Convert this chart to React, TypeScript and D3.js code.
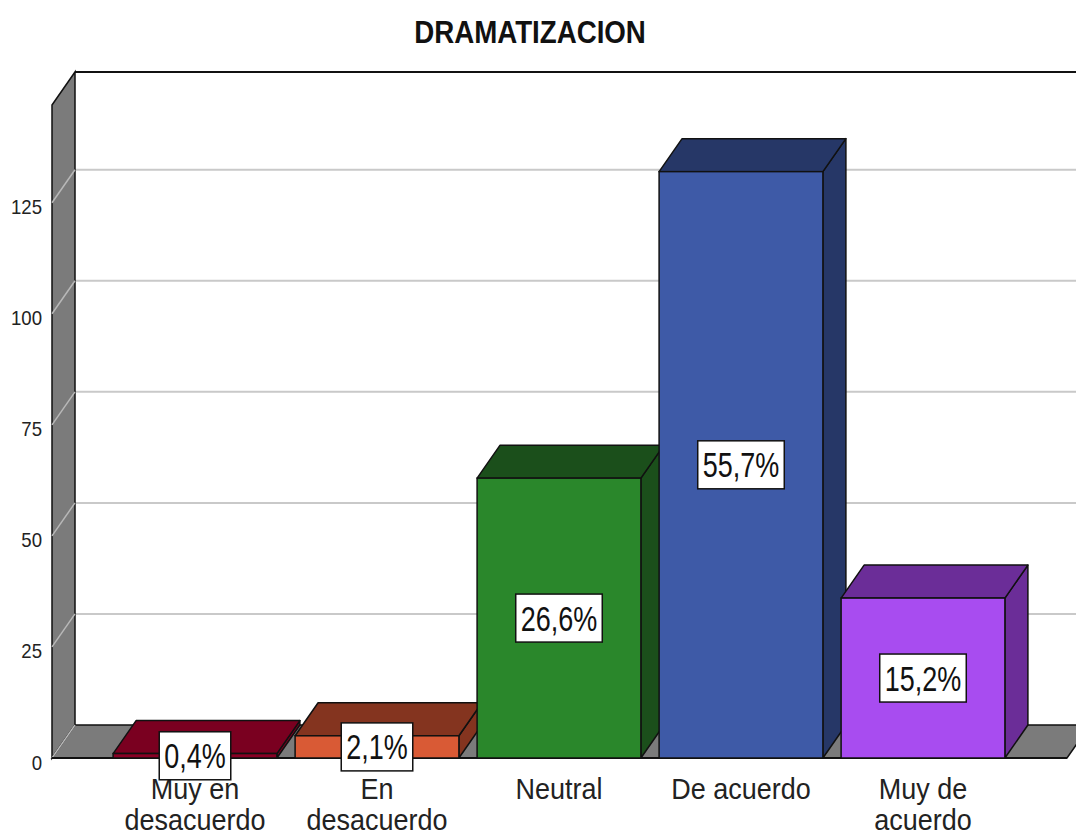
import React, { useEffect, useRef } from "react";
import * as d3 from "d3";

const title = "DRAMATIZACION";
const categories = ["Muy en desacuerdo", "En desacuerdo", "Neutral", "De acuerdo", "Muy de acuerdo"];
const categoryLines = [["Muy en", "desacuerdo"], ["En", "desacuerdo"], ["Neutral"], ["De acuerdo"], ["Muy de", "acuerdo"]];
const counts = [1, 5, 63, 132, 36];
const percentLabels = ["0,4%", "2,1%", "26,6%", "55,7%", "15,2%"];
const yTicks = [0, 25, 50, 75, 100, 125];
const frontColors = ["#890024", "#D95A35", "#2A872B", "#3E5AA7", "#A84CF0"];
const darkColors = ["#7A0020", "#84341F", "#1B4F1B", "#263767", "#6B2D98"];

const W = 1076;
const H = 836;
const FONT = "'Liberation Sans', Arial, sans-serif";

export default function App() {
  const ref = useRef<SVGSVGElement | null>(null);

  useEffect(() => {
    const svg = d3.select(ref.current);
    svg.selectAll("*").remove();

    const DX = 23;
    const DY = -33;
    const floorY = 758;
    const wallFrontX = 52;
    const floorRightFront = 1067;

    const y = d3.scaleLinear().domain([0, 147]).range([floorY, 105]);
    const x = d3
      .scaleBand<string>()
      .domain(categories)
      .range([104, 1014])
      .paddingInner(0.1)
      .paddingOuter(0.05);

    const g = svg.append("g");

    // back wall
    g.append("rect")
      .attr("x", wallFrontX + DX)
      .attr("y", y(147) + DY)
      .attr("width", W + 40 - (wallFrontX + DX))
      .attr("height", floorY - y(147))
      .attr("fill", "#ffffff");

    // gridlines on back wall
    yTicks.filter((t) => t > 0).forEach((t) => {
      g.append("line")
        .attr("x1", wallFrontX + DX)
        .attr("x2", W + 10)
        .attr("y1", y(t) + DY)
        .attr("y2", y(t) + DY)
        .attr("stroke", "#c9c9c9")
        .attr("stroke-width", 2);
    });

    // back wall top border
    g.append("line")
      .attr("x1", wallFrontX + DX)
      .attr("x2", W + 10)
      .attr("y1", y(147) + DY)
      .attr("y2", y(147) + DY)
      .attr("stroke", "#111")
      .attr("stroke-width", 2);

    // left wall
    const wallPts = [
      [wallFrontX, y(147)],
      [wallFrontX + DX, y(147) + DY],
      [wallFrontX + DX, floorY + DY],
      [wallFrontX, floorY],
    ];
    g.append("polygon")
      .attr("points", wallPts.map((p) => p.join(",")).join(" "))
      .attr("fill", "#7b7b7b")
      .attr("stroke", "#111")
      .attr("stroke-width", 1.5);

    // floor
    const floorPts = [
      [wallFrontX, floorY],
      [wallFrontX + DX, floorY + DY],
      [floorRightFront + DX, floorY + DY],
      [floorRightFront, floorY],
    ];
    g.append("polygon")
      .attr("points", floorPts.map((p) => p.join(",")).join(" "))
      .attr("fill", "#7b7b7b")
      .attr("stroke", "#111")
      .attr("stroke-width", 1.5);

    // diagonal gridlines on left wall
    yTicks.forEach((t) => {
      g.append("line")
        .attr("x1", wallFrontX)
        .attr("y1", y(t))
        .attr("x2", wallFrontX + DX)
        .attr("y2", y(t) + DY)
        .attr("stroke", "#b8b8b8")
        .attr("stroke-width", 1.5);
    });

    // front axis line
    g.append("line")
      .attr("x1", wallFrontX)
      .attr("x2", floorRightFront)
      .attr("y1", floorY)
      .attr("y2", floorY)
      .attr("stroke", "#111")
      .attr("stroke-width", 2);

    // y tick labels
    yTicks.forEach((t) => {
      g.append("text")
        .attr("transform", `translate(42,${y(t) + 11.5}) scale(1,1.13)`)
        .attr("text-anchor", "end")
        .attr("font-family", FONT)
        .attr("font-size", 18.6)
        .attr("fill", "#222")
        .text(String(t));
    });

    // bars
    categories.forEach((c, i) => {
      const x0 = x(c)!;
      const x1 = x0 + x.bandwidth();
      const yv = y(counts[i]);
      const bg = g.append("g");
      const stroke = "#111";
      bg.append("polygon")
        .attr(
          "points",
          [
            [x1, yv],
            [x1 + DX, yv + DY],
            [x1 + DX, floorY + DY],
            [x1, floorY],
          ]
            .map((p) => p.join(","))
            .join(" ")
        )
        .attr("fill", darkColors[i])
        .attr("stroke", stroke)
        .attr("stroke-width", 1.5)
        .attr("stroke-linejoin", "round");
      bg.append("polygon")
        .attr(
          "points",
          [
            [x0, yv],
            [x0 + DX, yv + DY],
            [x1 + DX, yv + DY],
            [x1, yv],
          ]
            .map((p) => p.join(","))
            .join(" ")
        )
        .attr("fill", darkColors[i])
        .attr("stroke", stroke)
        .attr("stroke-width", 1.5)
        .attr("stroke-linejoin", "round");
      bg.append("rect")
        .attr("x", x0)
        .attr("y", yv)
        .attr("width", x1 - x0)
        .attr("height", floorY - yv)
        .attr("fill", frontColors[i])
        .attr("stroke", stroke)
        .attr("stroke-width", 1.5);
    });

    // category labels
    categories.forEach((c, i) => {
      const cx = x(c)! + x.bandwidth() / 2;
      categoryLines[i].forEach((line, j) => {
        g.append("text")
          .attr("transform", `translate(${cx},${799 + j * 31}) scale(1,1.12)`)
          .attr("text-anchor", "middle")
          .attr("font-family", FONT)
          .attr("font-size", 27)
          .attr("fill", "#222")
          .text(line);
      });
    });

    // percentage labels
    categories.forEach((c, i) => {
      const cx = x(c)! + x.bandwidth() / 2;
      const cy = (y(counts[i]) + floorY) / 2;
      const lg = g.append("g");
      const rect = lg.append("rect");
      const txt = lg
        .append("text")
        .attr("transform", `translate(${cx},${cy + 12.5}) scale(1,1.3)`)
        .attr("text-anchor", "middle")
        .attr("font-family", FONT)
        .attr("font-size", 27)
        .attr("fill", "#111")
        .text(percentLabels[i]);
      const w = (txt.node() as SVGTextElement).getComputedTextLength() + 10;
      const h = 48;
      rect
        .attr("x", cx - w / 2)
        .attr("y", cy - h / 2)
        .attr("width", w)
        .attr("height", h)
        .attr("fill", "#fff")
        .attr("stroke", "#111")
        .attr("stroke-width", 1.5);
    });

    // title
    svg
      .append("text")
      .attr("transform", `translate(530,43) scale(1,1.16)`)
      .attr("text-anchor", "middle")
      .attr("font-family", FONT)
      .attr("font-weight", "bold")
      .attr("font-size", 27.7)
      .attr("fill", "#111")
      .text(title);
  }, []);

  return (
    <svg
      ref={ref}
      width={W}
      height={H}
      style={{ position: "absolute", left: 0, top: 0, background: "#fff" }}
    />
  );
}
